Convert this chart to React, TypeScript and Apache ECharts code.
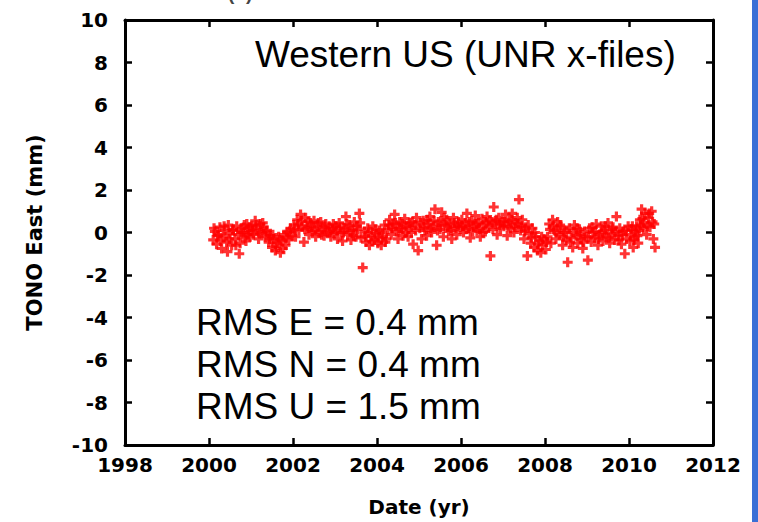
import React, { useEffect, useRef } from "react";
import * as echarts from "echarts";

const xTicks = [1998, 2000, 2002, 2004, 2006, 2008, 2010, 2012];
const yTicks = [-10, -8, -6, -4, -2, 0, 2, 4, 6, 8, 10];

const east2000 = [[2000.10,-0.35],[2000.12,0.2],[2000.14,0.05],[2000.18,-0.55],[2000.20,-0.1],[2000.22,-0.15],[2000.26,0.25],[2000.28,-0.4],[2000.30,-0.75],[2000.34,-0.2],[2000.36,0.3],[2000.38,0.1],[2000.42,-0.45],[2000.44,-0.9],[2000.46,0.35],[2000.48,-0.3],[2000.50,-0.05],[2000.54,-0.6],[2000.56,0.1],[2000.58,0.15],[2000.62,-0.3],[2000.64,-0.6],[2000.66,0.3],[2000.70,-0.1],[2000.72,-1.0],[2000.74,-0.5],[2000.76,0.0],[2000.78,0.2],[2000.82,0.0],[2000.84,0.35],[2000.86,-0.25],[2000.88,-0.4],[2000.90,0.4],[2000.92,-0.1],[2000.94,0.1],[2000.96,0.25],[2000.98,-0.2]];
const east2001 = [[2001.02,0.3],[2001.04,0.1],[2001.06,-0.1],[2001.10,0.55],[2001.12,0.35],[2001.14,0.15],[2001.18,-0.3],[2001.20,-0.05],[2001.22,0.4],[2001.26,0.0],[2001.28,0.45],[2001.30,0.25],[2001.34,-0.2],[2001.36,0.05],[2001.38,0.1],[2001.42,-0.45],[2001.44,-0.3],[2001.46,-0.15],[2001.50,-0.7],[2001.52,-0.1],[2001.54,-0.3],[2001.58,-0.85],[2001.60,-0.65],[2001.62,-0.5],[2001.66,-0.2],[2001.68,-0.35],[2001.70,-0.95],[2001.74,-0.4],[2001.76,-0.75],[2001.78,-0.1],[2001.82,-0.6],[2001.84,-0.25],[2001.86,0.0],[2001.90,-0.35],[2001.92,0.05],[2001.94,0.2],[2001.98,-0.15]];
const east2002 = [[2002.02,0.35],[2002.04,0.15],[2002.06,-0.2],[2002.10,0.6],[2002.12,0.4],[2002.14,0.1],[2002.18,0.85],[2002.20,0.55],[2002.22,0.3],[2002.26,-0.45],[2002.28,0.15],[2002.30,0.7],[2002.34,0.2],[2002.36,0.5],[2002.38,-0.1],[2002.42,0.45],[2002.44,0.25],[2002.46,0.05],[2002.50,0.55],[2002.52,0.1],[2002.54,-0.2],[2002.58,0.3],[2002.60,0.45],[2002.62,0.0],[2002.66,0.5],[2002.68,-0.1],[2002.70,0.15],[2002.74,-0.15],[2002.76,0.25],[2002.78,0.4],[2002.82,0.05],[2002.86,0.3],[2002.88,0.0],[2002.90,-0.2],[2002.94,0.2],[2002.96,0.4],[2002.98,-0.05]];
const east2003 = [[2003.02,0.3],[2003.04,0.1],[2003.06,-0.3],[2003.10,0.45],[2003.12,0.25],[2003.14,0.0],[2003.18,-0.4],[2003.20,0.0],[2003.22,0.2],[2003.26,0.75],[2003.28,0.4],[2003.30,-0.1],[2003.34,0.35],[2003.36,0.1],[2003.38,-0.35],[2003.42,0.1],[2003.44,-0.15],[2003.46,0.5],[2003.50,-0.2],[2003.52,0.3],[2003.54,0.15],[2003.58,0.9],[2003.60,0.45],[2003.62,-0.25],[2003.66,-1.65],[2003.70,0.05],[2003.72,-0.2],[2003.74,-0.45],[2003.78,0.2],[2003.80,0.0],[2003.82,-0.6],[2003.86,-0.15],[2003.88,-0.4],[2003.90,0.3],[2003.94,-0.35],[2003.96,0.15],[2003.98,-0.05]];
const east2004 = [[2004.02,-0.5],[2004.04,-0.25],[2004.06,0.1],[2004.10,-0.6],[2004.12,0.0],[2004.14,-0.2],[2004.18,0.35],[2004.20,-0.45],[2004.22,-0.3],[2004.26,0.15],[2004.28,0.35],[2004.30,0.6],[2004.34,-0.1],[2004.36,0.2],[2004.38,0.4],[2004.42,0.85],[2004.44,0.45],[2004.46,0.05],[2004.50,-0.3],[2004.52,0.15],[2004.54,0.5],[2004.58,0.2],[2004.60,0.4],[2004.62,-0.15],[2004.66,0.65],[2004.68,0.0],[2004.70,0.3],[2004.74,-0.2],[2004.76,0.25],[2004.78,0.45],[2004.82,0.0],[2004.84,0.5],[2004.86,-0.55],[2004.90,0.35],[2004.92,0.1],[2004.94,0.7],[2004.98,-0.85]];
const east2005 = [[2005.02,0.2],[2005.04,0.45],[2005.06,-0.3],[2005.10,0.55],[2005.12,0.25],[2005.14,0.1],[2005.18,-0.15],[2005.20,0.6],[2005.22,0.4],[2005.26,0.75],[2005.28,0.2],[2005.30,0.0],[2005.34,0.3],[2005.36,0.55],[2005.38,1.1],[2005.42,-0.6],[2005.44,0.1],[2005.46,0.5],[2005.50,0.15],[2005.52,0.4],[2005.54,0.95],[2005.58,-0.2],[2005.60,0.7],[2005.62,0.35],[2005.66,0.6],[2005.68,0.3],[2005.70,0.05],[2005.74,0.4],[2005.76,0.1],[2005.78,-0.3],[2005.82,0.7],[2005.84,0.45],[2005.86,0.2],[2005.90,-0.1],[2005.92,0.3],[2005.94,0.5],[2005.98,0.25]];
const east2006 = [[2006.02,0.6],[2006.04,0.3],[2006.06,0.0],[2006.10,0.45],[2006.12,0.15],[2006.14,0.9],[2006.18,0.2],[2006.20,0.5],[2006.22,-0.25],[2006.26,0.55],[2006.28,0.05],[2006.30,0.3],[2006.34,0.8],[2006.36,0.4],[2006.38,0.1],[2006.42,0.45],[2006.44,0.2],[2006.46,-0.2],[2006.50,0.65],[2006.52,0.0],[2006.54,0.35],[2006.58,0.05],[2006.60,0.45],[2006.62,0.75],[2006.66,0.25],[2006.68,0.55],[2006.70,-1.1],[2006.74,0.5],[2006.76,0.15],[2006.78,1.2],[2006.82,0.4],[2006.84,0.6],[2006.86,-0.1],[2006.90,0.7],[2006.92,0.35],[2006.94,0.2],[2006.98,0.5]];
const east2007 = [[2007.02,0.3],[2007.04,0.5],[2007.06,0.85],[2007.10,-0.15],[2007.12,0.3],[2007.14,0.55],[2007.18,0.2],[2007.20,0.6],[2007.22,0.9],[2007.26,0.0],[2007.28,0.25],[2007.30,0.45],[2007.34,0.7],[2007.36,0.4],[2007.38,1.55],[2007.42,0.1],[2007.44,0.3],[2007.46,0.6],[2007.50,-0.3],[2007.52,0.05],[2007.54,0.25],[2007.58,-1.1],[2007.60,0.35],[2007.62,-0.05],[2007.66,-0.5],[2007.68,-0.25],[2007.70,0.2],[2007.74,-0.7],[2007.76,0.0],[2007.78,-0.2],[2007.82,-0.85],[2007.84,-0.55],[2007.86,-0.4],[2007.90,-0.95],[2007.92,-0.2],[2007.94,-0.6],[2007.98,-0.3]];
const east2008 = [[2008.02,-0.8],[2008.04,-0.45],[2008.06,-0.2],[2008.10,0.4],[2008.12,0.15],[2008.14,-0.5],[2008.18,0.6],[2008.20,0.3],[2008.22,0.1],[2008.26,-0.3],[2008.28,0.0],[2008.30,0.5],[2008.34,-0.1],[2008.36,0.35],[2008.38,0.25],[2008.42,-0.6],[2008.44,-0.2],[2008.46,0.0],[2008.50,-0.35],[2008.52,0.1],[2008.54,-1.4],[2008.58,0.2],[2008.60,-0.45],[2008.62,-0.25],[2008.66,-0.7],[2008.68,0.0],[2008.70,0.35],[2008.74,-0.15],[2008.76,0.2],[2008.78,-0.5],[2008.82,0.15],[2008.84,-0.1],[2008.86,-0.3],[2008.90,-0.75],[2008.92,-0.45],[2008.94,0.05],[2008.98,-0.2]];
const east2009 = [[2009.02,-1.3],[2009.04,-0.2],[2009.06,0.2],[2009.10,-0.45],[2009.12,0.25],[2009.14,0.0],[2009.18,-0.25],[2009.20,0.05],[2009.22,0.4],[2009.26,-0.6],[2009.28,-0.3],[2009.30,-0.1],[2009.34,0.3],[2009.36,0.0],[2009.38,-0.4],[2009.42,0.1],[2009.44,0.3],[2009.46,-0.2],[2009.50,0.45],[2009.52,-0.25],[2009.54,-0.5],[2009.58,-0.05],[2009.60,0.15],[2009.62,0.25],[2009.66,-0.35],[2009.68,0.05],[2009.70,0.75],[2009.74,-0.15],[2009.76,-0.35],[2009.78,0.2],[2009.82,-0.55],[2009.84,-0.1],[2009.86,0.05],[2009.90,-1.0],[2009.92,0.1],[2009.94,-0.3],[2009.98,0.3]];
const east2010 = [[2010.02,-0.4],[2010.04,-0.1],[2010.06,0.15],[2010.08,0.3],[2010.10,-0.7],[2010.12,-0.35],[2010.14,-0.2],[2010.16,0.05],[2010.18,0.3],[2010.20,-0.15],[2010.22,-0.5],[2010.24,0.1],[2010.26,0.6],[2010.28,0.35],[2010.30,1.1],[2010.32,0.65],[2010.34,0.2],[2010.36,0.45],[2010.38,0.9],[2010.42,-0.1],[2010.44,0.3],[2010.46,0.7],[2010.48,0.9],[2010.50,0.25],[2010.54,1.0],[2010.56,0.5],[2010.58,-0.3],[2010.60,0.4],[2010.62,-0.7]];

const titleText = "Western US (UNR x-files)";
const rmsLines = ["RMS E = 0.4 mm", "RMS N = 0.4 mm", "RMS U = 1.5 mm"];

const PLUS = "path://M3.4,0H6.6V3.4H10V6.6H6.6V10H3.4V6.6H0V3.4H3.4Z";

export default function App() {
  const ref = useRef<HTMLDivElement>(null);
  useEffect(() => {
    document.body.style.margin = "0";
    const chart = echarts.init(ref.current!, null, { renderer: "svg" });
    const data = [
      ...east2000, ...east2001, ...east2002, ...east2003, ...east2004, ...east2005,
      ...east2006, ...east2007, ...east2008, ...east2009, ...east2010,
    ];
    const font = "'Liberation Sans', Arial, sans-serif";
    const lblFont = "'DejaVu Sans', sans-serif";
    const axisLine = { show: true, onZero: false, lineStyle: { color: "#000", width: 3 } };
    const tick = { show: true, inside: true, length: 7, lineStyle: { color: "#000", width: 2.5 } };
    const option: any = {
      animation: false,
      backgroundColor: "#fff",
      grid: { left: 125, right: 45, top: 20, bottom: 76 },
      xAxis: [
        {
          type: "value", min: xTicks[0], max: xTicks[xTicks.length - 1], interval: 2,
          position: "bottom",
          axisLine, axisTick: tick, splitLine: { show: false },
          axisLabel: { color: "#000", fontFamily: lblFont, fontWeight: "bold", fontSize: 20, margin: 10, formatter: (v: number) => String(v) },
          name: "Date (yr)", nameLocation: "middle", nameGap: 52,
          nameTextStyle: { color: "#000", fontFamily: lblFont, fontWeight: "bold", fontSize: 20 },
        },
        {
          type: "value", min: xTicks[0], max: xTicks[xTicks.length - 1], interval: 2,
          position: "top",
          axisLine, axisTick: tick, axisLabel: { show: false }, splitLine: { show: false },
        },
      ],
      yAxis: [
        {
          type: "value", min: yTicks[0], max: yTicks[yTicks.length - 1], interval: 2,
          position: "left",
          axisLine, axisTick: tick, splitLine: { show: false },
          axisLabel: { color: "#000", fontFamily: lblFont, fontWeight: "bold", fontSize: 20, margin: 17, formatter: (v: number) => String(v) },
          name: "TONO East (mm)", nameLocation: "middle", nameGap: 80,
          nameTextStyle: { color: "#000", fontFamily: lblFont, fontWeight: "bold", fontSize: 21 },
        },
        {
          type: "value", min: yTicks[0], max: yTicks[yTicks.length - 1], interval: 2,
          position: "right",
          axisLine, axisTick: tick, axisLabel: { show: false }, splitLine: { show: false },
        },
      ],
      series: [
        {
          type: "scatter",
          data,
          symbol: PLUS,
          symbolSize: 10,
          itemStyle: { color: "#ff0000" },
        },
      ],
      graphic: [
        { type: "text", left: 255, top: 36, style: { text: titleText, font: `37px ${font}`, fill: "#000" } },
        ...rmsLines.map((t, i) => ({
          type: "text", left: 196, top: 304 + i * 42, style: { text: t, font: `37px ${font}`, fill: "#000" },
        })),
        { type: "rect", shape: { x: 752, y: 0, width: 6, height: 522 }, style: { fill: "#3a6fd6" } },
        { type: "text", left: 228, top: -16, style: { text: "(b)", font: `bold 19px ${font}`, fill: "#444" } },
      ],
    };
    chart.setOption(option);
    return () => chart.dispose();
  }, []);
  return <div ref={ref} style={{ width: 758, height: 522 }} />;
}
